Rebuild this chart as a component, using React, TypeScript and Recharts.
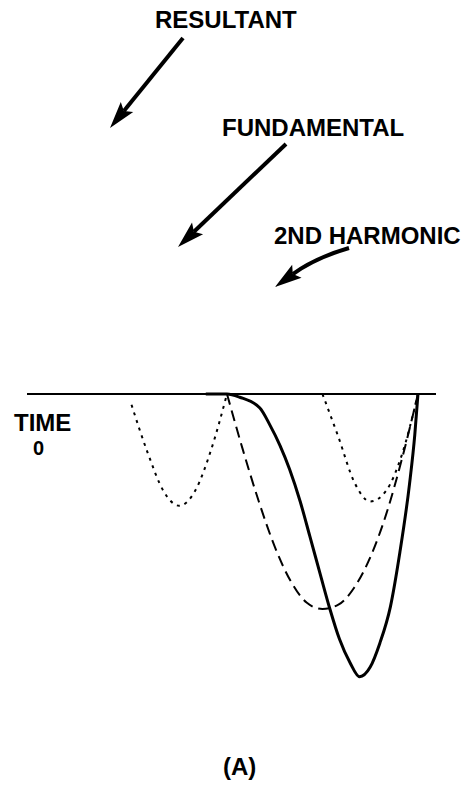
import { ComposedChart, Line, XAxis, YAxis, ReferenceLine } from "recharts";

// Fundamental-grader: 0 = start af grundtone-halvbølgen, 180 = slut
const HARM_LEFT_DEG = [-90, -75, -60, -45, -30, -15, 0];
const HARM_LEFT_VAL = [-0.5, -2.7, -4.5, -5.2, -4.5, -2.6, 0];

const HARM_RIGHT_DEG = [90, 105, 120, 135, 150, 165, 180];
const HARM_RIGHT_VAL = [0, -2.0, -4.1, -5.0, -4.5, -2.8, 0];

const FUND_DEG = [0, 15, 30, 45, 60, 75, 90, 105, 120, 135, 150, 165, 180];
const FUND_VAL = [0, -2.6, -5.0, -7.1, -8.7, -9.7, -10.0, -9.8, -9.0, -7.6, -5.6, -3.0, 0];

const RES_DEG = [-20, 0, 12, 31, 40, 50, 59, 69, 78, 88, 97, 106, 116, 125, 135, 144, 154, 163, 172, 177, 180];
const RES_VAL = [0, 0, -0.15, -0.65, -1.4, -2.4, -3.5, -5.0, -6.6, -8.4, -10.0, -11.4, -12.5, -13.15, -12.7, -11.6, -9.9, -7.35, -4.2, -1.9, 0];

const toPoints = (xs: number[], ys: number[]) => xs.map((x, i) => ({ x, y: ys[i] }));

const harmLeft = toPoints(HARM_LEFT_DEG, HARM_LEFT_VAL);
const harmRight = toPoints(HARM_RIGHT_DEG, HARM_RIGHT_VAL);
const fundamental = toPoints(FUND_DEG, FUND_VAL);
const resultant = toPoints(RES_DEG, RES_VAL);

const LABEL_FONT = "'Liberation Sans', Arial, sans-serif";

function Arrow({ x1, y1, x2, y2, cx, cy }: { x1: number; y1: number; x2: number; y2: number; cx?: number; cy?: number }) {
  // pilspids i (x2,y2)
  const fromX = cx ?? x1;
  const fromY = cy ?? y1;
  const dx = x2 - fromX;
  const dy = y2 - fromY;
  const len = Math.hypot(dx, dy);
  const ux = dx / len;
  const uy = dy / len;
  const headLen = 27;
  const headHalf = 8;
  const bx = x2 - ux * headLen;
  const by = y2 - uy * headLen;
  const head = `${x2},${y2} ${bx - uy * headHalf},${by + ux * headHalf} ${bx + ux * 5},${by + uy * 5} ${bx + uy * headHalf},${by - ux * headHalf}`;
  const shaft = cx !== undefined ? `M${x1},${y1} Q${cx},${cy} ${bx + ux * 5},${by + uy * 5}` : `M${x1},${y1} L${bx + ux * 5},${by + uy * 5}`;
  return (
    <g>
      <path d={shaft} stroke="#000" strokeWidth={4} fill="none" />
      <polygon points={head} fill="#000" />
    </g>
  );
}

export default function App() {
  return (
    <div style={{ position: "absolute", left: 0, top: 0, width: 467, height: 788, background: "#fff" }}>
      <ComposedChart
        width={467}
        height={788}
        margin={{ top: 7, right: 31, bottom: 93, left: 27 }}
        style={{ position: "absolute", left: 0, top: 0 }}
      >
        <XAxis type="number" dataKey="x" domain={[-188.5, 197]} hide allowDataOverflow />
        <YAxis type="number" dataKey="y" domain={[-14, 18]} hide allowDataOverflow />
        <ReferenceLine y={0} stroke="#000" strokeWidth={2} />
        <Line data={harmLeft} dataKey="y" type="monotone" stroke="#000" strokeWidth={2} strokeDasharray="3 5" dot={false} isAnimationActive={false} />
        <Line data={harmRight} dataKey="y" type="monotone" stroke="#000" strokeWidth={2} strokeDasharray="3 5" dot={false} isAnimationActive={false} />
        <Line data={fundamental} dataKey="y" type="monotone" stroke="#000" strokeWidth={2} strokeDasharray="11 6" dot={false} isAnimationActive={false} />
        <Line data={resultant} dataKey="y" type="monotone" stroke="#000" strokeWidth={3} dot={false} isAnimationActive={false} />
      </ComposedChart>

      {/* tekst og pile */}
      <svg width={467} height={788} style={{ position: "absolute", left: 0, top: 0, pointerEvents: "none" }}>
        <g fontFamily={LABEL_FONT} fontWeight="bold" fontSize={24} fill="#000">
          <text x={155} y={28}>RESULTANT</text>
          <text x={222} y={136}>FUNDAMENTAL</text>
          <text x={274} y={244}>2ND HARMONIC</text>
          <text x={14} y={431}>TIME</text>
          <text x={33} y={455} fontSize={20}>0</text>
          <text x={223} y={775}>(A)</text>
        </g>
        <Arrow x1={183} y1={38} x2={110} y2={128} />
        <Arrow x1={286} y1={144} x2={178} y2={247} />
        <Arrow x1={349} y1={248} x2={275} y2={287} cx={315} cy={258} />
      </svg>
    </div>
  );
}
